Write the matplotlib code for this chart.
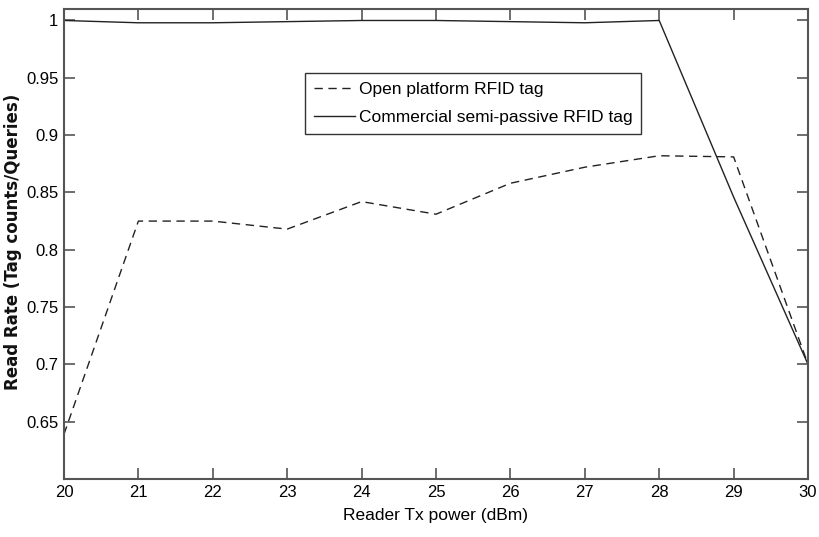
import matplotlib
matplotlib.use("Agg")
import matplotlib.pyplot as plt

plt.rcParams['font.family'] = ['Liberation Sans', 'DejaVu Sans']

power = [20, 21, 22, 23, 24, 25, 26, 27, 28, 29, 30]
open_tag = [0.639, 0.825, 0.825, 0.818, 0.842, 0.831, 0.858, 0.872, 0.882, 0.881, 0.700]
commercial_tag = [1.000, 0.998, 0.998, 0.999, 1.000, 1.000, 0.999, 0.998, 1.000, 0.846, 0.700]

ytick_vals = [0.65, 0.7, 0.75, 0.8, 0.85, 0.9, 0.95, 1]
ytick_labels = ['0.65', '0.7', '0.75', '0.8', '0.85', '0.9', '0.95', '1']

fig = plt.figure(figsize=(8.19, 5.37), dpi=100)
ax = fig.add_axes([0.0781, 0.108, 0.9085, 0.8752])

ax.plot(power, open_tag, color='#222222', linestyle=(0, (6, 4)), linewidth=1.0,
        label='Open platform RFID tag')
ax.plot(power, commercial_tag, color='#222222', linestyle='-', linewidth=1.0,
        label='Commercial semi-passive RFID tag')

ax.set_xlim(20, 30)
ax.set_ylim(0.6, 1.01)
ax.set_xticks(power)
ax.set_yticks(ytick_vals)
ax.set_yticklabels(ytick_labels)

for s in ax.spines.values():
    s.set_color('#555555')
    s.set_linewidth(1.5)
ax.tick_params(direction='in', length=8, width=1.2, color='#555555',
               top=True, right=True, labelsize=12, pad=4)

ax.set_xlabel('Reader Tx power (dBm)', fontsize=12.5, labelpad=6)
ax.set_ylabel('Read Rate (Tag counts/Queries)', fontsize=12, fontweight='bold',
              family=['DejaVu Sans'], color='#111111')
ax.yaxis.set_label_coords(-0.057, 0.505)

leg = ax.legend(loc='upper left', bbox_to_anchor=(0.324, 0.864), borderaxespad=0,
                fontsize=12.5, handlelength=2.4, handletextpad=0.2,
                borderpad=0.5, labelspacing=0.75, fancybox=False, framealpha=1)
leg.get_frame().set_edgecolor('#333333')
leg.get_frame().set_linewidth(1.0)

fig.savefig('out.png', dpi=100)
